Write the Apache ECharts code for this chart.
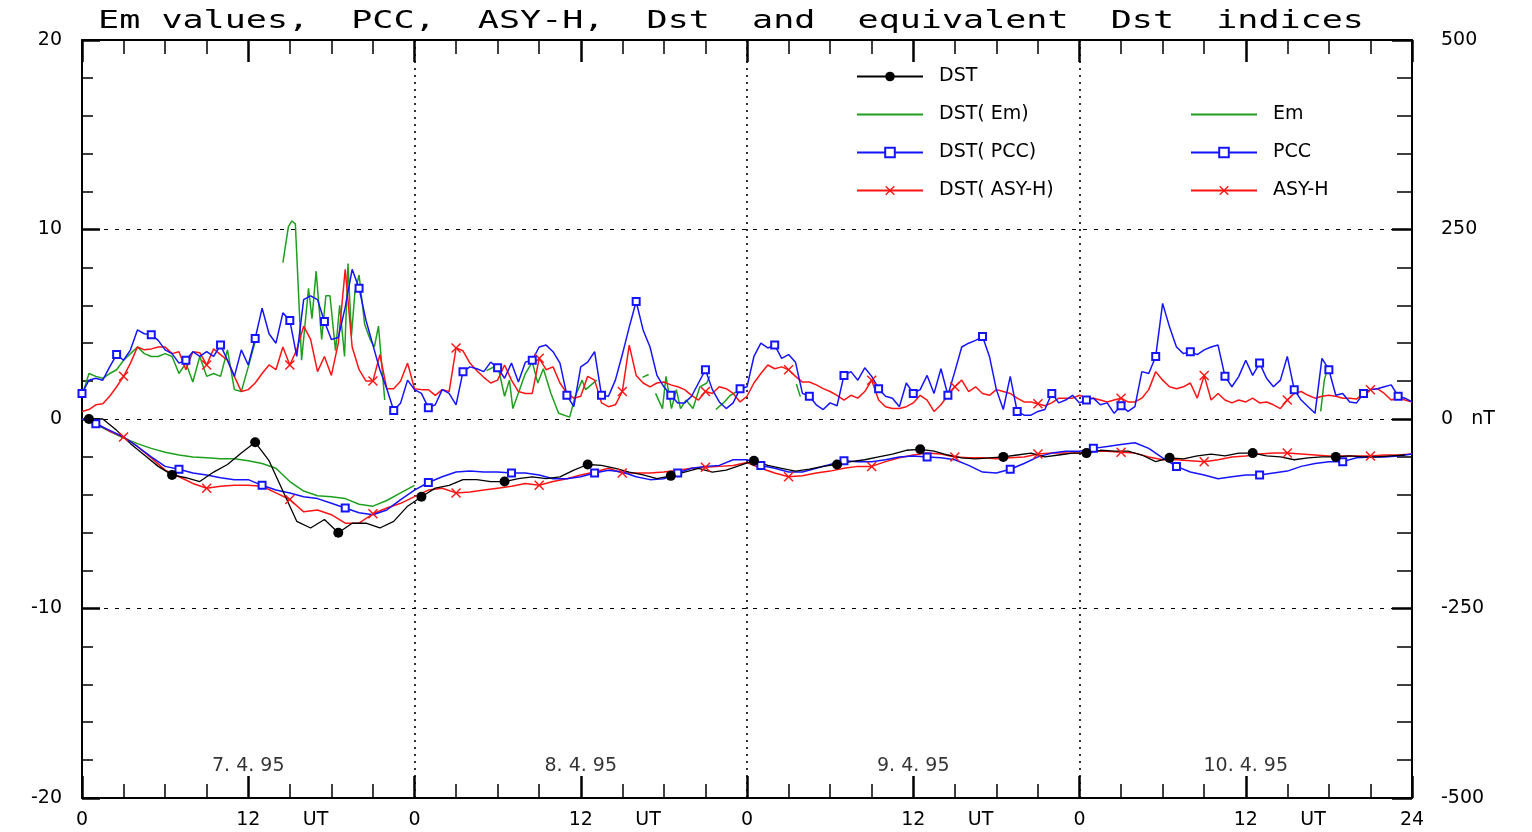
<!DOCTYPE html>
<html>
<head>
<meta charset="utf-8">
<script src="https://cdn.jsdelivr.net/npm/echarts@6/dist/echarts.min.js"></script>
<style>
html, body { margin: 0; padding: 0; background: #ffffff; }
#chart { width: 1532px; height: 832px; }
</style>
</head>
<body>
<div id="chart"></div>
<script>
// ---------------- data ----------------
const titleText = 'Em values,  PCC,  ASY-H,  Dst  and  equivalent  Dst  indices';
const xTickLabels = ['0', '12', '0', '12', '0', '12', '0', '12', '24'];
const leftTickValues = [-20, -10, 0, 10, 20];
const leftTickLabels = ['-20', '-10', '0', '10', '20'];
const rightTickValues = [-500, -250, 0, 250, 500];
const rightTickLabels = ['-500', '-250', '0   nT', '250', '500'];
const dayLabels = ['7. 4. 95', '8. 4. 95', '9. 4. 95', '10. 4. 95'];
const dayLabelHours = [12, 36, 60, 84];

// PCC (half-hourly, 0..96 h)
const pccValues = [
  1.35, 2.05, 2.15, 2.05, 2.75, 3.4, 3.1, 3.65, 4.7, 4.5, 4.45, 4.15, 3.65, 3.45, 2.95, 3.1, 3.55, 3.3, 3.55, 3.3,
  3.9, 3.1, 2.25, 3.65, 2.85, 4.25, 5.85, 4.5, 4.0, 5.6, 5.2, 3.3, 6.3, 6.5, 6.3, 5.15, 4.2, 4.3, 5.9, 7.9,
  6.9, 5.2, 3.9, 2.6, 1.6, 0.45, 0.85, 2.05,
  1.55, 1.35, 0.6, 0.75, 1.55, 1.35, 0.75, 2.5, 2.75, 2.65, 2.5, 3.0, 2.7, 2.15, 2.95, 1.95, 3.0, 3.1, 3.8, 3.9,
  3.55, 2.95, 1.25, 0.65, 2.75, 3.0, 3.55, 1.25, 1.2, 2.05, 3.4, 4.85, 6.2, 4.7, 3.8, 2.3, 1.7, 1.25, 0.85, 0.85,
  1.2, 1.9, 2.6, 1.55, 0.9, 0.55, 0.85, 1.6,
  1.7, 3.3, 4.0, 3.75, 3.9, 3.2, 3.4, 3.0, 1.35, 1.2, 0.75, 0.5, 0.85, 0.7, 2.3, 2.5, 2.05, 2.7, 2.25, 1.6,
  1.2, 1.1, 0.65, 1.9, 1.35, 1.55, 2.3, 1.35, 2.65, 1.25, 2.5, 3.8, 4.0, 4.15, 4.35, 3.3, 1.55, 0.5, 2.25, 0.4,
  0.2, 0.2, 0.4, 0.5, 1.35, 0.85, 1.0, 1.25,
  0.85, 1.0, 1.1, 0.75, 0.85, 0.3, 0.7, 0.4, 0.65, 2.5, 2.4, 3.3, 6.1, 4.85, 3.8, 3.45, 3.55, 3.4, 3.65, 3.8,
  3.9, 2.25, 1.7, 2.25, 3.1, 2.3, 2.95, 2.15, 1.7, 2.05, 3.3, 1.55, 1.0, 0.65, 0.3, 3.2, 2.6, 1.25, 1.35, 0.9,
  0.85, 1.35, 1.55, 1.6, 1.7, 1.8, 1.2, 1.1, 0.9
];

// ASY-H (half-hourly, 0..96 h), in left-axis units
const asyValues = [
  0.4, 0.5, 0.75, 0.8, 1.2, 1.7, 2.25, 2.95, 3.8, 3.65, 3.7, 3.8, 3.8, 3.45, 3.55, 2.6, 3.55, 3.5, 2.85, 3.7,
  3.4, 3.1, 2.25, 1.45, 1.55, 1.9, 2.4, 2.85, 2.6, 3.8, 2.85, 3.65, 4.9, 4.2, 2.5, 3.3, 2.3, 4.0, 7.9, 3.8,
  2.6, 2.0, 2.0, 3.4, 1.6, 1.6, 2.0, 2.95,
  1.6, 1.55, 1.55, 1.25, 1.55, 1.45, 3.75, 3.6, 2.95, 2.55, 2.2, 1.9, 2.05, 2.85, 2.05, 1.45, 1.35, 1.35, 3.2, 2.6,
  2.75, 1.9, 1.35, 1.1, 1.2, 2.25, 2.05, 0.85, 0.65, 0.75, 1.45, 3.9, 2.3, 1.9, 1.7, 1.9, 1.95, 1.8, 1.7, 1.55,
  1.25, 1.0, 1.45, 1.35, 1.7, 1.6, 1.35, 0.9,
  1.2, 1.9, 2.4, 2.85, 2.65, 2.75, 2.6, 2.25, 1.95, 1.95, 1.8, 1.6, 1.45, 1.25, 1.0, 1.25, 1.1, 1.45, 2.05, 1.0,
  0.65, 0.55, 0.55, 0.65, 0.85, 1.25, 1.0, 0.4, 0.75, 1.25, 1.7, 2.05, 1.45, 1.7, 1.35, 1.25, 1.55, 1.45, 1.35, 1.1,
  0.9, 0.9, 0.8, 0.7, 0.85, 1.1, 1.1, 1.1,
  1.25, 1.1, 1.1, 1.0, 0.9, 1.0, 1.1, 0.9, 0.9, 1.1, 1.55, 2.5, 2.05, 1.7, 1.6, 1.7, 1.9, 1.1, 2.3, 1.0,
  1.35, 1.0, 0.85, 1.0, 0.9, 1.1, 0.85, 0.9, 0.75, 0.55, 1.0, 1.35, 1.45, 1.25, 1.1, 1.2, 1.25, 1.2, 1.1, 1.1,
  1.05, 1.35, 1.55, 1.6, 1.35, 1.0, 1.1, 1.0, 0.9
];

// Em (irregular samples, null = data gap)
const emHours = [
  0, 0.5, 1, 1.5, 2, 2.5, 3, 3.5, 4, 4.5, 5, 5.5, 6, 6.5, 7, 7.5, 8, 8.5, 9, 9.5, 10, 10.5, 11, 11.5, 12, 12.6, 13.5,
  14.5, 14.9, 15.15, 15.4, 15.85, 16.35, 16.6, 16.9, 17.3, 17.6, 17.9, 18.3, 18.6, 18.95, 19.2, 19.45, 19.7, 20.0, 20.4, 20.8, 21.1, 21.4, 21.85, 22.5,
  29.2, 30.0, 30.5, 30.85, 31.1, 32.0, 32.5, 32.9, 33.3, 33.85, 34.4, 35.2, 35.6, 36.1, 36.35, 37.15, 38.5,
  40.45, 40.9, 41.1,
  41.4, 41.9, 42.15, 42.55, 42.9, 43.2, 43.6, 44.1, 44.6, 45.1, 45.3, 45.5,
  45.75, 46.3, 46.8, 47.5, 48.0,
  51.56, 51.85, 52.5,
  89.41, 89.67, 89.96
];
const emValues = [
  1.2, 2.4, 2.25, 2.15, 2.4, 2.6, 3.1, 3.45, 3.8, 3.45, 3.3, 3.3, 3.45, 3.3, 2.4, 2.95, 1.95, 3.3, 2.25, 2.4, 2.25, 3.65, 1.55, 1.45, 2.75, 4.35, null,
  8.25, 10.15, 10.45, 10.3, 3.1, 6.9, 5.3, 7.8, 4.2, 6.5, 6.5, 3.6, 6.0, 3.3, 8.2, 4.4, 6.7, 7.6, 5.0, 4.2, 3.8, 4.9, 1.0, null,
  2.55, 2.85, 1.2, 2.05, 0.55, 2.4, 3.0, 1.9, 2.65, 1.35, 0.3, 0.1, 1.2, 2.05, 1.55, 2.05, null,
  2.2, 2.35, null,
  1.35, 0.55, 2.25, 0.55, 1.55, 0.55, 1.0, 0.55, 1.7, 1.9, 2.25, null,
  0.5, 0.85, 1.25, 1.55, null,
  1.85, 1.18, null,
  0.4, 2.05, 2.8
];

// DST (hourly values at hh:30)
const dstValues = [
  0, 0, -0.6, -1.3, -1.9, -2.5, -2.95, -3.1, -3.3, -2.8, -2.4, -1.8, -1.23, -2.2, -3.8, -5.4, -5.75, -5.3, -6.0, -5.5, -5.5, -5.75, -5.4, -4.6,
  -4.1, -3.65, -3.5, -3.2, -3.2, -3.3, -3.3, -3.15, -3.05, -3.15, -3.05, -2.7, -2.4, -2.45, -2.6, -2.8, -2.95, -3.15, -3.0, -2.8, -2.6, -2.8, -2.7, -2.45,
  -2.2, -2.45, -2.6, -2.75, -2.65, -2.5, -2.4, -2.25, -2.15, -2.0, -1.85, -1.65, -1.6, -1.7, -1.9, -2.05, -2.1, -2.05, -2.0, -1.9, -1.8, -2.0, -1.9, -1.8,
  -1.8, -1.65, -1.7, -1.7, -1.9, -2.25, -2.05, -2.1, -1.95, -1.85, -1.95, -1.8, -1.8, -1.95, -2.0, -2.15, -2.05, -2.0, -2.0, -1.95, -2.0, -2.0, -1.95, -1.9
];

// DST(Em) (hourly, 0..24 h)
const dstEmValues = [
  0, -0.3, -0.65, -1.0, -1.3, -1.55, -1.75, -1.9, -2.0, -2.05, -2.1, -2.1, -2.2, -2.35, -2.6, -3.3, -3.8, -4.05, -4.1, -4.2, -4.5, -4.6, -4.3, -3.9, -3.5
];

// DST(PCC) (hourly, 0..96 h)
const dstPccValues = [
  0, -0.25, -0.6, -0.95, -1.45, -2.0, -2.5, -2.65, -2.85, -2.95, -3.1, -3.2, -3.2, -3.5, -3.75, -3.9, -4.1, -4.2, -4.45, -4.7, -4.95, -5.05, -4.8, -4.25,
  -3.75, -3.35, -3.05, -2.8, -2.75, -2.8, -2.8, -2.85, -2.85, -2.95, -3.15, -3.15, -3.05, -2.85, -2.7, -2.8, -3.05, -3.2, -3.15, -2.85, -2.6, -2.5, -2.45, -2.15,
  -2.15, -2.45, -2.6, -2.8, -2.8, -2.6, -2.4, -2.2, -2.25, -2.25, -2.15, -2.0, -1.95, -2.0, -2.05, -2.15, -2.45, -2.8, -2.85, -2.65, -2.35, -2.0, -1.8, -1.7,
  -1.7, -1.55, -1.45, -1.35, -1.25, -1.55, -2.05, -2.5, -2.8, -2.95, -3.15, -3.05, -2.95, -2.95, -2.85, -2.75, -2.5, -2.35, -2.25, -2.25, -2.05, -2.0, -2.0, -1.95, -1.85
];

// DST(ASY-H) (hourly, 0..96 h)
const dstAsyValues = [
  0, -0.2, -0.65, -0.95, -1.45, -2.05, -2.7, -3.05, -3.4, -3.65, -3.55, -3.5, -3.5, -3.55, -3.9, -4.25, -4.9, -4.8, -5.05, -5.5, -5.5, -5.0, -4.7, -4.45,
  -4.1, -3.75, -3.65, -3.9, -3.85, -3.75, -3.65, -3.55, -3.4, -3.5, -3.3, -3.15, -2.95, -2.8, -2.6, -2.85, -2.85, -2.85, -2.8, -2.7, -2.6, -2.55, -2.5, -2.45,
  -2.3, -2.6, -2.85, -3.05, -3.0, -2.85, -2.75, -2.6, -2.5, -2.5, -2.25, -2.05, -1.9, -1.8, -1.85, -2.0, -2.05, -2.05, -2.1, -2.05, -2.0, -1.85, -1.8, -1.8,
  -1.8, -1.7, -1.7, -1.75, -1.8, -2.0, -2.15, -2.15, -2.2, -2.25, -2.15, -2.0, -1.95, -1.85, -1.8, -1.8, -1.85, -1.9, -1.95, -1.95, -1.95, -1.95, -1.9, -1.9, -1.85
];

// ---------------- styling ----------------
const FONT = 'DejaVu Sans';
const GREEN = '#1ea01e';
const BLUE = '#1414ff';
const RED = '#ff1414';
const BLACK = '#000000';
const X_SYMBOL = 'path://M0,1L1,0L5,4L9,0L10,1L6,5L10,9L9,10L5,6L1,10L0,9L4,5Z';
const LINE_ICON = 'path://M0,0H66V2H0Z';

function points(timeOf, values, markEvery, markOffset) {
  return values.map((v, i) => {
    const item = { value: [timeOf(i), v === null ? '-' : v] };
    if (!markEvery || (i - markOffset) % markEvery !== 0) item.symbol = 'none';
    return item;
  });
}
const halfHour = i => i * 0.5;
const onHour = i => i;
const midHour = i => i + 0.5;

function lineSeries(name, color, data, symbol, symbolSize, extra) {
  return Object.assign({
    name: name,
    type: 'line',
    data: data,
    symbol: symbol,
    symbolSize: symbolSize,
    showSymbol: true,
    connectNulls: false,
    smooth: false,
    silent: true,
    animation: false,
    lineStyle: { color: color, width: 1.5 },
    itemStyle: { color: color }
  }, extra || {});
}

const series = [
  lineSeries('DST( Em)', GREEN, points(onHour, dstEmValues, 0, 0), 'none', 0),
  lineSeries('Em', GREEN, emHours.map((h, i) => ({ value: [h, emValues[i] === null ? '-' : emValues[i]], symbol: 'none' })), 'none', 0),
  lineSeries('DST( ASY-H)', RED, points(onHour, dstAsyValues, 6, 3), X_SYMBOL, 10),
  lineSeries('ASY-H', RED, points(halfHour, asyValues, 12, 6), X_SYMBOL, 10),
  lineSeries('DST( PCC)', BLUE, points(onHour, dstPccValues, 6, 1), 'emptyRect', 7,
    { itemStyle: { color: BLUE, borderColor: BLUE, borderWidth: 1.5 } }),
  lineSeries('PCC', BLUE, points(halfHour, pccValues, 5, 0), 'emptyRect', 7,
    { itemStyle: { color: BLUE, borderColor: BLUE, borderWidth: 1.5 } }),
  lineSeries('DST', BLACK, points(midHour, dstValues, 6, 0), 'circle', 10,
    { lineStyle: { color: BLACK, width: 1.3 } }),
  {
    name: 'dates',
    type: 'scatter',
    silent: true,
    animation: false,
    symbolSize: 2,
    itemStyle: { color: 'rgba(0,0,0,0)' },
    data: dayLabelHours.map(h => [h, -18.3]),
    label: {
      show: true,
      position: 'inside',
      color: '#000',
      fontFamily: FONT,
      fontSize: 19,
      formatter: p => dayLabels[p.dataIndex]
    }
  }
];

const xBase = {
  type: 'value',
  min: 0,
  max: 96,
  interval: 12,
  axisLine: { show: true, onZero: false, lineStyle: { color: '#000', width: 2 } },
  splitLine: { show: false },
  minorTick: { show: true, splitNumber: 4, length: 14, lineStyle: { color: '#000', width: 1.5 } },
  axisTick: { show: true, inside: true, length: 22, lineStyle: { color: '#000', width: 2.5 } }
};

const legendBase = {
  orient: 'vertical',
  padding: 0,
  itemWidth: 66,
  itemHeight: 12,
  itemGap: 19,
  selectedMode: false,
  symbolKeepAspect: true,
  textStyle: { color: '#000', fontFamily: FONT, fontSize: 19, padding: [0, 0, 0, 11] }
};

const option = {
  backgroundColor: '#ffffff',
  animation: false,
  textStyle: { fontFamily: FONT },
  grid: { left: 82, right: 120, top: 40, bottom: 34, containLabel: false },
  graphic: [{
    type: 'text',
    x: 731,
    y: 22,
    scaleX: 1.46,
    silent: true,
    style: {
      text: titleText,
      fontFamily: 'DejaVu Sans Mono',
      fontSize: 24,
      fill: '#000',
      align: 'center',
      verticalAlign: 'middle',
      textAlign: 'center',
      textVerticalAlign: 'middle'
    }
  }],
  legend: [
    Object.assign({}, legendBase, {
      data: [
        { name: 'DST' },
        { name: 'DST( Em)', icon: LINE_ICON },
        { name: 'DST( PCC)' },
        { name: 'DST( ASY-H)' }
      ],
      left: 856,
      top: 67
    }),
    Object.assign({}, legendBase, {
      data: [
        { name: 'Em', icon: LINE_ICON },
        { name: 'PCC' },
        { name: 'ASY-H' }
      ],
      left: 1190,
      top: 105
    })
  ],
  xAxis: [
    Object.assign({}, xBase, {
      position: 'bottom',
      axisLabel: {
        show: true,
        margin: 13,
        showMinLabel: true,
        showMaxLabel: true,
        hideOverlap: false,
        color: '#000',
        fontFamily: FONT,
        fontSize: 19,
        formatter: v => {
          const lab = xTickLabels[Math.round(v / 12)];
          if (lab === '12') return '{pad|}{n|' + lab + '}{ut|UT}';
          return '{n|' + lab + '}';
        },
        rich: {
          pad: { width: 68 },
          n: { fontFamily: FONT, fontSize: 19, color: '#000' },
          ut: { width: 68, align: 'right', fontFamily: FONT, fontSize: 19, color: '#000' }
        }
      }
    }),
    Object.assign({}, xBase, {
      position: 'top',
      axisLabel: { show: false }
    }),
    {
      type: 'value',
      min: 0,
      max: 96,
      interval: 24,
      position: 'bottom',
      axisLine: { show: false },
      axisTick: { show: false },
      axisLabel: { show: false },
      splitLine: { show: true, lineStyle: { color: '#000', width: 1.6, type: [2, 5] } }
    }
  ],
  yAxis: [
    {
      type: 'value',
      position: 'left',
      min: -20,
      max: 20,
      interval: 10,
      axisLine: { show: true, onZero: false, lineStyle: { color: '#000', width: 2 } },
      axisTick: { show: true, inside: true, length: 18, lineStyle: { color: '#000', width: 2.5 } },
      minorTick: { show: true, splitNumber: 5, length: 11, lineStyle: { color: '#000', width: 1.5 } },
      splitLine: { show: true, lineStyle: { color: '#000', width: 1.2, type: [4, 7] } },
      axisLabel: {
        show: true,
        margin: 20,
        color: '#000',
        fontFamily: FONT,
        fontSize: 19,
        formatter: v => leftTickLabels[leftTickValues.indexOf(v)]
      }
    },
    {
      type: 'value',
      position: 'right',
      min: -500,
      max: 500,
      interval: 250,
      axisLine: { show: true, onZero: false, lineStyle: { color: '#000', width: 2 } },
      axisTick: { show: true, inside: true, length: 20, lineStyle: { color: '#000', width: 2.5 } },
      minorTick: { show: true, splitNumber: 5, length: 15, lineStyle: { color: '#000', width: 1.5 } },
      splitLine: { show: false },
      axisLabel: {
        show: true,
        margin: 29,
        align: 'left',
        color: '#000',
        fontFamily: FONT,
        fontSize: 19,
        formatter: v => rightTickLabels[rightTickValues.indexOf(v)]
      }
    }
  ],
  series: series
};

const chart = echarts.init(document.getElementById('chart'), null, { renderer: 'canvas' });
chart.setOption(option);
</script>
</body>
</html>
